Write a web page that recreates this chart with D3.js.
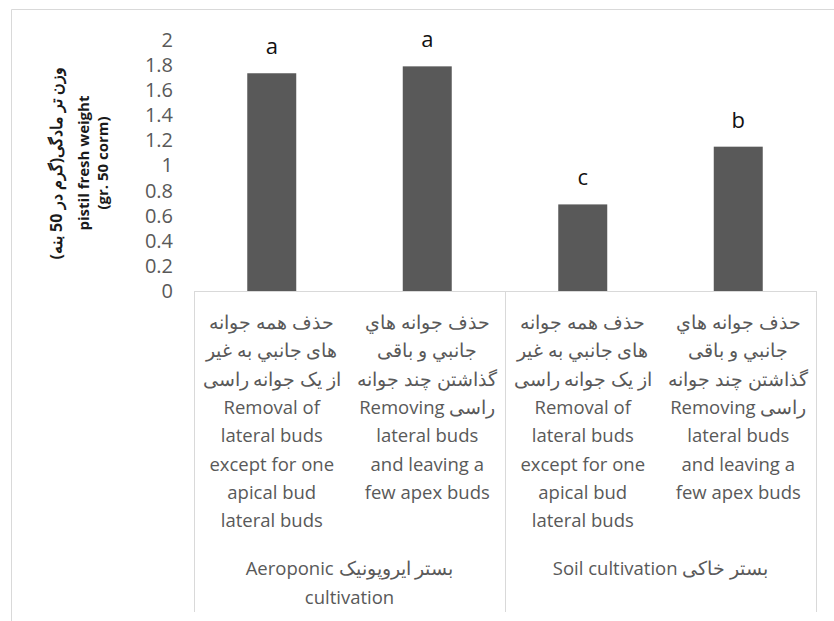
<!DOCTYPE html>
<html>
<head>
<meta charset="utf-8">
<script src="https://cdn.jsdelivr.net/npm/d3@7"></script>
<style>
body { margin: 0; background: #fff; }
text { font-family: "Open Sans", sans-serif; }
</style>
</head>
<body>
<script>
const svgWidth = 834
const svgHeight = 621

// bar values
const values = [1.735, 1.79, 0.69, 1.15]
const letters = ["a", "a", "c", "b"]
const categories = ["c1", "c2", "c3", "c4"]
const yTicks = [0, 0.2, 0.4, 0.6, 0.8, 1, 1.2, 1.4, 1.6, 1.8, 2]

const labelOne = ["حذف همه جوانه", "های جانبي به غير", "از یک جوانه راسی", "Removal of", "lateral buds", "except for one", "apical bud", "lateral buds"]
const labelTwo = ["حذف جوانه هاي", "جانبي و باقی", "گذاشتن چند جوانه", "Removing راسی", "lateral buds", "and leaving a", "few apex buds"]
const catLabels = [labelOne, labelTwo, labelOne, labelTwo]

const groupLabels = [["Aeroponic  بستر ایروپونیک", "cultivation"], ["Soil cultivation بستر خاکی"]]
const titleLines = ["وزن تر مادگی(گرم در 50 بنه)", "pistil fresh weight", "(gr. 50 corm)"]

const plot = { left: 194, right: 816, top: 40, bottom: 291 }

const svg = d3.select("body").append("svg")
    .attr("width", svgWidth)
    .attr("height", svgHeight)

// outer chart frame (only top and left edges fall inside the picture)
svg.append("path")
    .attr("d", `M11.5,${svgHeight} V9.5 H${svgWidth}`)
    .attr("fill", "none")
    .attr("stroke", "#d9d9d9")

const x = d3.scaleBand()
    .domain(categories)
    .range([plot.left, plot.right])
    .paddingInner(0.685)
    .paddingOuter(0.3425)

const y = d3.scaleLinear()
    .domain([0, 2])
    .range([plot.bottom, plot.top])

const yAxis = d3.axisLeft(y)
    .tickValues(yTicks)
    .tickFormat(d3.format("~g"))
    .tickSize(0)
    .tickPadding(21)

svg.append("g")
    .attr("transform", `translate(${plot.left}, 0)`)
    .call(yAxis)
    .call(g => g.select(".domain").remove())
    .selectAll("text")
    .attr("font-family", "Open Sans")
    .attr("font-size", 20)
    .attr("fill", "#595959")

svg.selectAll(".bar")
    .data(values)
    .join("rect")
    .attr("class", "bar")
    .attr("x", (d, i) => x(categories[i]))
    .attr("width", x.bandwidth())
    .attr("y", d => y(d))
    .attr("height", d => y(0) - y(d))
    .attr("fill", "#595959")

svg.selectAll(".letter")
    .data(values)
    .join("text")
    .attr("class", "letter")
    .attr("x", (d, i) => x(categories[i]) + x.bandwidth() / 2)
    .attr("y", d => y(d) - 19)
    .attr("text-anchor", "middle")
    .attr("font-size", 22)
    .attr("fill", "#111")
    .text((d, i) => letters[i])

// category axis lines
const lineColor = "#d9d9d9"
svg.append("line")
    .attr("x1", plot.left).attr("x2", plot.right)
    .attr("y1", plot.bottom + 0.5).attr("y2", plot.bottom + 0.5)
    .attr("stroke", lineColor)

const groupEdges = [x.range()[0], (x("c2") + x("c3") + x.bandwidth()) / 2, x.range()[1]]
svg.selectAll(".gline")
    .data(groupEdges)
    .join("line")
    .attr("class", "gline")
    .attr("x1", d => Math.round(d) + 0.5).attr("x2", d => Math.round(d) + 0.5)
    .attr("y1", plot.bottom).attr("y2", 612)
    .attr("stroke", lineColor)

const catText = svg.selectAll(".cat")
    .data(catLabels)
    .join("text")
    .attr("class", "cat")
    .attr("text-anchor", "middle")
    .attr("font-size", 18.5)
    .attr("fill", "#595959")

catText.selectAll("tspan")
    .data((d, i) => d.map(t => ({ t, cx: x(categories[i]) + x.bandwidth() / 2 })))
    .join("tspan")
    .attr("x", d => d.cx)
    .attr("y", (d, j) => 329 + j * 28.3)
    .text(d => d.t)

const groupText = svg.selectAll(".grp")
    .data(groupLabels)
    .join("text")
    .attr("class", "grp")
    .attr("text-anchor", "middle")
    .attr("font-size", 18.5)
    .attr("fill", "#595959")

groupText.selectAll("tspan")
    .data((d, i) => d.map(t => ({ t, cx: (groupEdges[i] + groupEdges[i + 1]) / 2 })))
    .join("tspan")
    .attr("x", d => d.cx)
    .attr("y", (d, j) => 575 + j * 29)
    .text(d => d.t)

// rotated axis title
svg.append("text")
    .attr("transform", "translate(0, 163) rotate(-90)")
    .attr("text-anchor", "middle")
    .attr("font-size", 15)
    .attr("font-weight", "bold")
    .attr("fill", "#1a1a1a")
    .selectAll("tspan")
    .data(titleLines)
    .join("tspan")
    .attr("x", 0)
    .attr("y", (d, i) => [62, 89, 108][i])
    .attr("font-size", (d, i) => i === 0 ? 16 : 15)
    .text(d => d)
</script>
</body>
</html>
